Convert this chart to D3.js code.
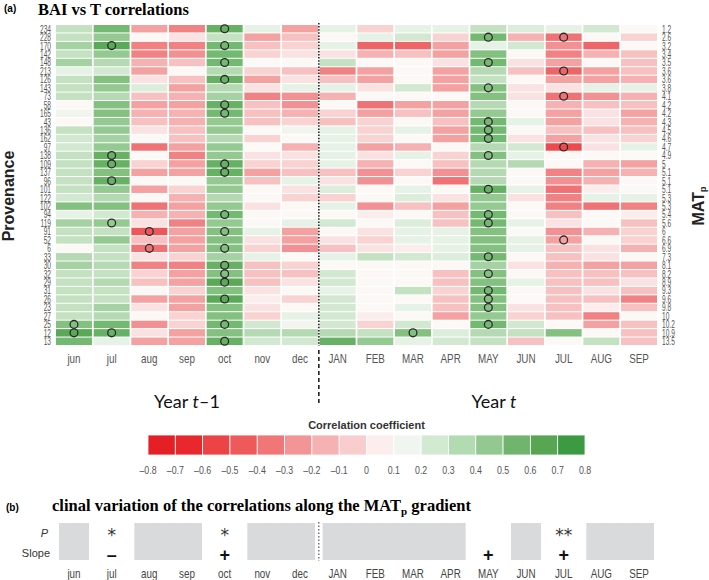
<!DOCTYPE html>
<html><head><meta charset="utf-8">
<script src="https://cdn.jsdelivr.net/npm/d3@7"></script>
<style>body{margin:0;background:#fff} svg{display:block}</style>
</head><body>
<svg id="c" width="709" height="580"></svg>
<script>
const months = ["jun","jul","aug","sep","oct","nov","dec","JAN","FEB","MAR","APR","MAY","JUN","JUL","AUG","SEP"];
const provenances = ["234","228","170","142","148","213","126","143","73","58","165","43","136","162","97","138","109","137","96","101","122","102","94","119","91","52","6","33","30","32","29","31","26","23","27","25","12","13"];
const matp = ["1.2","2.6","3.2","3.4","3.5","3.6","3.6","3.8","4.1","4.2","4.2","4.3","4.5","4.6","4.7","4.9","5","5.1","5.1","5.1","5.3","5.3","5.4","5.6","6","6.6","6.9","7.3","8.1","8.2","8.9","9.3","9.6","9.8","10","10.2","10.9","13.5"];
// correlation per provenance row, months jun..SEP
const corr = [
[.25,.5,-.3,-.4,.55,.1,-.3,.1,-.15,.1,.1,.25,.15,.1,.2,0],
[.25,.4,0,-.1,.25,-.3,-.2,0,.1,.2,-.15,.5,-.25,-.45,0,-.15],
[.35,.6,-.4,-.4,.5,-.2,-.15,.1,-.5,-.5,-.3,.1,.2,-.35,-.5,0],
[.25,.4,-.4,-.35,.5,-.15,-.1,-.1,-.25,-.2,-.3,.45,0,-.4,-.25,-.2],
[.35,.3,-.25,-.2,.5,0,0,.25,0,0,-.1,.5,-.1,-.3,0,-.2],
[.1,.2,-.3,0,.3,-.15,-.2,-.4,-.3,0,-.3,.3,-.2,-.5,-.3,-.2],
[.25,.45,-.1,-.2,.55,-.3,-.1,-.2,-.3,0,-.3,.25,0,-.3,-.3,-.25],
[.25,.4,.15,-.3,.3,-.1,.1,.1,-.1,.2,-.3,.45,-.1,-.1,.1,.1],
[.25,.3,-.2,-.25,.35,-.4,-.35,-.25,0,0,0,.45,-.1,-.45,-.35,-.25],
[0,.45,-.3,-.3,.55,-.2,-.35,0,-.45,-.3,-.3,.3,0,-.25,-.2,-.2],
[.05,.45,-.25,-.25,.5,-.2,-.25,-.15,-.3,-.2,-.3,.4,0,-.3,-.1,-.3],
[0,.4,-.2,-.25,.4,-.2,-.15,-.2,-.15,0,-.2,.5,.1,-.3,-.1,-.25],
[.25,.4,-.1,-.2,.4,0,.05,.1,-.15,.1,-.3,.5,0,-.2,-.2,-.2],
[.2,.35,0,-.2,.3,-.15,0,.1,-.15,0,-.3,.5,-.1,-.3,-.1,-.15],
[.2,.4,-.45,-.3,.4,0,-.25,.1,-.3,-.25,0,.3,.2,-.6,-.1,.1],
[.25,.55,0,-.4,.4,-.1,-.1,.1,-.1,.1,-.15,.45,.1,0,0,0],
[.25,.55,-.15,-.3,.55,-.15,-.15,.1,-.25,0,-.2,.3,.3,0,-.25,-.3],
[.25,.45,-.3,-.3,.55,-.3,-.2,-.2,-.35,-.15,-.35,.3,0,-.4,-.3,-.25],
[.25,.55,0,0,.4,-.2,.1,-.1,-.35,0,-.45,.3,0,-.35,-.25,0],
[.25,.4,-.3,-.15,.4,0,-.1,.15,0,.1,0,.55,.1,-.45,-.05,0],
[.2,.3,0,-.25,.3,0,-.15,-.15,0,.15,-.1,.4,-.1,-.4,.1,.1],
[.45,.45,-.45,-.3,.4,-.1,0,.1,-.35,-.2,-.3,.4,0,-.4,-.45,-.4],
[.1,.2,-.25,-.25,.5,0,0,0,-.05,0,-.2,.5,0,-.2,0,-.05],
[.35,.4,-.1,-.4,.4,0,.1,.2,0,.15,-.2,.5,.1,-.1,0,-.2],
[.25,.25,-.55,-.3,.45,.1,-.3,0,-.1,.1,.1,.45,0,-.35,-.25,-.15],
[.25,.4,-.2,-.3,.45,-.1,-.3,-.1,-.15,.1,.1,.45,.1,-.3,0,-.15],
[0,.25,-.45,-.3,.45,-.15,-.35,-.2,-.1,-.05,.1,.45,.1,-.2,-.1,-.25],
[.3,.25,-.1,-.15,.35,.1,0,.1,.25,.2,.15,.5,0,-.2,-.1,0],
[.35,.3,-.4,-.4,.55,-.2,-.15,0,0,0,0,.35,-.1,-.25,-.3,-.3],
[.25,.25,-.15,-.3,.45,-.2,-.2,.2,0,0,-.2,.45,0,-.2,-.2,-.2],
[.25,.3,-.2,-.3,.6,-.2,-.1,.2,0,0,-.2,.45,.1,-.2,-.2,-.1],
[.25,.25,0,-.15,.45,-.1,0,.1,0,.25,-.15,.5,0,-.2,-.1,-.2],
[.25,.25,-.3,-.3,.6,-.05,-.15,.2,0,0,-.2,.45,0,-.2,-.2,-.4],
[.25,.35,-.1,-.3,.45,-.1,0,.2,0,.1,-.2,.45,-.1,-.2,-.05,-.2],
[.25,.3,0,-.15,.45,-.15,.1,.2,-.05,0,-.3,.4,-.15,-.2,-.4,0],
[.45,.5,-.35,-.15,.5,.2,.05,.2,-.15,.2,0,.5,.2,0,-.3,-.2],
[.6,.55,-.1,-.3,.45,.3,.3,.3,.25,.45,.15,.3,.25,.45,0,-.2],
[.5,.1,-.3,-.3,.55,.2,.2,.55,.4,.1,.2,.25,-.2,0,.25,-.2]
];
// significant cells [provenance, month]
const sigCells = [
["25","jun"],["12","jun"],
["170","jul"],["138","jul"],["109","jul"],["96","jul"],["119","jul"],["12","jul"],
["91","aug"],["6","aug"],
["234","oct"],["170","oct"],["148","oct"],["126","oct"],["58","oct"],["165","oct"],["109","oct"],["137","oct"],["94","oct"],["91","oct"],["6","oct"],["30","oct"],["32","oct"],["29","oct"],["26","oct"],["25","oct"],["13","oct"],
["12","MAR"],
["228","MAY"],["148","MAY"],["143","MAY"],["43","MAY"],["136","MAY"],["162","MAY"],["138","MAY"],["101","MAY"],["94","MAY"],["119","MAY"],["33","MAY"],["32","MAY"],["31","MAY"],["26","MAY"],["23","MAY"],["25","MAY"],
["228","JUL"],["213","JUL"],["73","JUL"],["97","JUL"],["52","JUL"]
];
const legendTicks = [-0.8,-0.7,-0.6,-0.5,-0.4,-0.3,-0.2,-0.1,0,0.1,0.2,0.3,0.4,0.5,0.6,0.7,0.8];
const legendColors = ["#e41f26","#e8282c","#ec4446","#ee5a5c","#f17678","#f39496","#f6b2b3","#f9cdce","#fdeeee","#f0f6ef","#d3ead2","#b3dbb1","#93c991","#70b46d","#58a653","#3c9a42"];
const pMarks = ["","*","","","*","","","","","","","","","**","",""];
const slopeMarks = ["","\u2013","","","+","","","","","","","+","","+","",""];

const svg = d3.select("#c");
const x = d3.scaleBand().domain(months).range([56,657]).paddingInner(0.045);
const y = d3.scaleBand().domain(provenances).range([25,345]).paddingInner(0.12);
const color = d3.scaleLinear()
  .domain([-0.8,-0.6,-0.45,-0.3,-0.2,-0.1,0,0.1,0.2,0.3,0.4,0.5,0.6,0.8])
  .range(["#e41f26","#ec4a4d","#ef7274","#f4a1a2","#f7c1c2","#fbe2e2","#fbf8f6","#e7f2e6","#d2e8d0","#b5dab3","#94c991","#74b971","#5aa957","#3c9a42"])
  .clamp(true);

// titles
svg.append("text").attr("x",4).attr("y",12).attr("font-family","Liberation Sans, Arial").attr("font-weight","bold").attr("font-size",10).text("(a)");
svg.append("text").attr("x",38).attr("y",15).attr("font-family","Liberation Serif, Times New Roman").attr("font-weight","bold").attr("font-size",16.5).text("BAI vs T correlations");

// cells
const cells = [];
provenances.forEach((p,i)=>months.forEach((m,j)=>cells.push({p,m,v:corr[i][j]})));
svg.append("g").selectAll("rect").data(cells).join("rect")
  .attr("x",d=>x(d.m)).attr("y",d=>y(d.p))
  .attr("width",x.bandwidth()).attr("height",y.bandwidth())
  .attr("fill",d=>color(d.v));

// significance circles
svg.append("g").selectAll("circle").data(sigCells).join("circle")
  .attr("cx",d=>x(d[1])+x.bandwidth()/2).attr("cy",d=>y(d[0])+y.bandwidth()/2)
  .attr("r",3.9).attr("fill","none").attr("stroke","#2a2a2a").attr("stroke-width",1.3);

// left labels
svg.append("g").selectAll("g").data(provenances).join("g")
  .attr("transform",d=>`translate(51,${y(d)+y.bandwidth()/2}) scale(0.55,0.9)`)
  .append("text").attr("text-anchor","end").attr("dy","0.36em")
  .attr("font-family","Liberation Sans, Arial").attr("font-size",12).attr("fill","#555").text(d=>d);
// right labels
svg.append("g").selectAll("g").data(matp).join("g")
  .attr("transform",(d,i)=>`translate(662,${y(provenances[i])+y.bandwidth()/2}) scale(0.55,0.9)`)
  .append("text").attr("text-anchor","start").attr("dy","0.36em")
  .attr("font-family","Liberation Sans, Arial").attr("font-size",12).attr("fill","#555").text(d=>d);

// axis titles
svg.append("text").attr("transform","translate(14,196) rotate(-90)").attr("text-anchor","middle")
  .attr("font-family","Liberation Sans, Arial").attr("font-weight","bold").attr("font-size",16).attr("fill","#222").text("Provenance");
const mt = svg.append("text").attr("transform","translate(704,206) rotate(-90)").attr("text-anchor","middle")
  .attr("font-family","Liberation Sans, Arial").attr("font-weight","bold").attr("font-size",16).attr("fill","#222");
mt.append("tspan").text("MAT");
mt.append("tspan").attr("font-size",9).attr("dy",2).text("p");

// month labels
svg.append("g").selectAll("g").data(months).join("g")
  .attr("transform",d=>`translate(${x(d)+x.bandwidth()/2},359) scale(0.82,1)`)
  .append("text").attr("text-anchor","middle").attr("dy","0.36em")
  .attr("font-family","Liberation Sans, Arial").attr("font-size",12).attr("fill","#555").text(d=>d);

// year separator
const sepX = x("JAN") - (x.step()-x.bandwidth())/2;
svg.append("line").attr("x1",sepX).attr("x2",sepX).attr("y1",23).attr("y2",346)
  .attr("stroke","#222").attr("stroke-width",1.6).attr("stroke-dasharray","1.5,1.6");
svg.append("line").attr("x1",sepX).attr("x2",sepX).attr("y1",350).attr("y2",405)
  .attr("stroke","#222").attr("stroke-width",1.6).attr("stroke-dasharray","4,3");

// year labels
const y1 = svg.append("text").attr("x",187).attr("y",408).attr("text-anchor","middle")
  .attr("font-family","Lato, Open Sans, sans-serif").attr("font-size",18).attr("fill","#111");
y1.append("tspan").text("Year ");
y1.append("tspan").attr("font-style","italic").text("t");
y1.append("tspan").text("\u20131");
const y2 = svg.append("text").attr("x",494).attr("y",408).attr("text-anchor","middle")
  .attr("font-family","Lato, Open Sans, sans-serif").attr("font-size",18).attr("fill","#111");
y2.append("tspan").text("Year ");
y2.append("tspan").attr("font-style","italic").text("t");

// legend
const lx = d3.scaleLinear().domain([-0.8,0.8]).range([148,585]);
svg.append("text").attr("x",lx(0)).attr("y",429).attr("text-anchor","middle")
  .attr("font-family","Liberation Sans, Arial").attr("font-weight","bold").attr("font-size",11).attr("fill","#333").text("Correlation coefficient");
svg.append("g").selectAll("rect").data(legendColors).join("rect")
  .attr("x",(d,i)=>lx(legendTicks[i])).attr("y",435)
  .attr("width",(d,i)=>lx(legendTicks[i+1])-lx(legendTicks[i])).attr("height",20)
  .attr("fill",d=>d).attr("stroke","#fff").attr("stroke-width",0.8);
svg.append("g").selectAll("g").data(legendTicks).join("g")
  .attr("transform",d=>`translate(${lx(d)},470) scale(0.8,1)`)
  .append("text").attr("text-anchor","middle").attr("dy","0.36em")
  .attr("font-family","Liberation Sans, Arial").attr("font-size",11).attr("fill","#555")
  .text(d=>d===0?"0":(d<0?"\u2013":"")+Math.abs(d).toFixed(1));

// panel b
svg.append("text").attr("x",6).attr("y",511).attr("font-family","Liberation Sans, Arial").attr("font-weight","bold").attr("font-size",10).text("(b)");
const bt = svg.append("text").attr("x",52).attr("y",511).attr("font-family","Liberation Serif, Times New Roman").attr("font-weight","bold").attr("font-size",16.5);
bt.append("tspan").text("clinal variation of the correlations along the MAT");
bt.append("tspan").attr("font-size",11).attr("dy",4).text("p");
bt.append("tspan").attr("dy",-4).text(" gradient");

// grey groups of non-significant months
const groups = [];
let cur = null;
months.forEach((m,j)=>{
  const empty = slopeMarks[j]==="";
  if (empty && cur && j!==7) { cur.end = j; }
  else if (empty) { cur = {start:j,end:j}; groups.push(cur); }
  else cur = null;
});
svg.append("g").selectAll("rect").data(groups).join("rect")
  .attr("x",d=>x(months[d.start])+3)
  .attr("width",d=>x(months[d.end])+x.bandwidth()-3-(x(months[d.start])+3))
  .attr("y",523).attr("height",37).attr("fill","#d9dadb");
svg.append("line").attr("x1",sepX).attr("x2",sepX).attr("y1",522).attr("y2",561)
  .attr("stroke","#333").attr("stroke-width",1).attr("stroke-dasharray","1.5,2");

svg.append("text").attr("x",48).attr("y",537).attr("text-anchor","end").attr("font-family","Liberation Sans, Arial").attr("font-style","italic").attr("font-size",11).attr("fill","#333").text("P");
svg.append("text").attr("x",50).attr("y",557).attr("text-anchor","end").attr("font-family","Liberation Sans, Arial").attr("font-size",11).attr("fill","#333").text("Slope");

svg.append("g").selectAll("text").data(pMarks).join("text")
  .attr("x",(d,i)=>x(months[i])+x.bandwidth()/2).attr("y",541).attr("text-anchor","middle")
  .attr("font-family","DejaVu Sans, sans-serif").attr("font-size",17).attr("fill","#333").text(d=>d);
svg.append("g").selectAll("text").data(slopeMarks).join("text")
  .attr("x",(d,i)=>x(months[i])+x.bandwidth()/2).attr("y",561).attr("text-anchor","middle")
  .attr("font-family","Liberation Sans, Arial").attr("font-weight","bold").attr("font-size",18).attr("fill","#111").text(d=>d);

svg.append("g").selectAll("g").data(months).join("g")
  .attr("transform",d=>`translate(${x(d)+x.bandwidth()/2},574) scale(0.82,1)`)
  .append("text").attr("text-anchor","middle").attr("dy","0.36em")
  .attr("font-family","Liberation Sans, Arial").attr("font-size",12).attr("fill","#444").text(d=>d);
</script>
</body></html>
